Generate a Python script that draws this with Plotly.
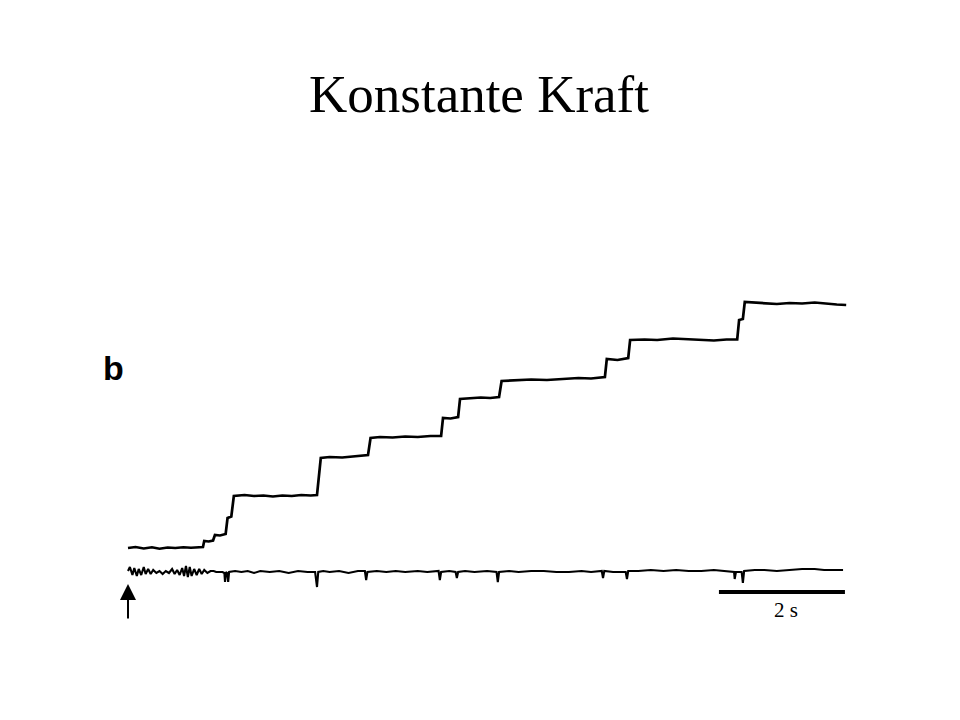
import plotly.graph_objects as go

# ---- data -------------------------------------------------------------
# upper trace: bead displacement (nm) vs time (s)
step_t = [0.00, 0.12, 0.25, 0.38, 0.50, 0.63, 0.75, 0.88, 1.00, 1.10, 1.19,
          1.21, 1.28, 1.35,
          1.38, 1.46, 1.55,
          1.58, 1.64,
          1.68, 1.85, 2.00, 2.15, 2.30, 2.45, 2.60, 2.75, 2.90, 3.00,
          3.06, 3.20, 3.40, 3.60, 3.81,
          3.85, 4.00, 4.20, 4.40, 4.60, 4.80, 4.97,
          5.00, 5.12, 5.24,
          5.27, 5.45, 5.60, 5.75, 5.89,
          5.93, 6.15, 6.40, 6.65, 6.90, 7.15, 7.35, 7.57,
          7.60, 7.77, 7.94,
          7.97, 8.20, 8.40, 8.65, 8.90, 9.10, 9.30, 9.50, 9.67,
          9.70, 9.76,
          9.79, 9.95, 10.10, 10.30, 10.50, 10.70, 10.90, 11.10, 11.25, 11.40]
step_d = [0.0, 0.4, -0.2, 0.3, -0.3, 0.2, 0.0, 0.3, 0.1, 0.4, 0.4,
          2.8, 2.6, 3.0,
          5.2, 5.0, 5.6,
          12.0, 12.6,
          20.8, 21.2, 20.8, 21.0, 20.6, 21.0, 20.8, 21.2, 21.0, 21.2,
          36.0, 36.4, 36.2, 36.8, 37.2,
          44.0, 44.4, 44.2, 44.6, 44.4, 44.8, 44.8,
          52.0, 51.8, 52.4,
          59.6, 59.8, 60.2, 60.0, 60.4,
          66.8, 67.0, 67.4, 67.2, 67.6, 68.0, 67.8, 68.4,
          75.6, 75.2, 76.0,
          83.2, 83.4, 83.2, 83.8, 83.6, 83.2, 83.0, 83.4, 83.4,
          91.2, 91.6,
          98.4, 98.2, 98.0, 97.6, 98.0, 97.8, 98.2, 97.6, 97.4, 97.2]

# lower trace: force / position-detector signal (arb. units) vs time (s)
sig_t = [0.00, 0.03, 0.07, 0.10, 0.14, 0.17, 0.21, 0.25, 0.28, 0.32,
         0.36, 0.40, 0.45, 0.50, 0.55, 0.60, 0.65, 0.70, 0.74, 0.78,
         0.82, 0.86, 0.89, 0.92, 0.95, 0.98, 1.01, 1.05, 1.09, 1.13,
         1.17, 1.21, 1.26, 1.31, 1.36, 1.40, 1.50,
         1.53, 1.54, 1.555, 1.575, 1.59, 1.605,
         1.70, 1.80, 1.90, 2.00, 2.10, 2.25, 2.40, 2.55, 2.70, 2.85, 2.97,
         3.00, 3.02, 3.10, 3.20, 3.35, 3.50, 3.65, 3.76,
         3.78, 3.80, 3.95, 4.10, 4.25, 4.40, 4.60, 4.75, 4.93,
         4.95, 4.97, 5.10, 5.20,
         5.22, 5.24, 5.35, 5.50, 5.70, 5.85,
         5.87, 5.89, 6.05, 6.20, 6.40, 6.60, 6.80, 7.00, 7.20, 7.35, 7.52,
         7.54, 7.56, 7.70, 7.90,
         7.92, 7.94, 8.10, 8.30, 8.50, 8.70, 8.90, 9.10, 9.30, 9.50, 9.62,
         9.63, 9.65, 9.74,
         9.76, 9.78, 9.95, 10.10, 10.30, 10.50, 10.70, 10.90, 11.05, 11.20, 11.35]
sig_f = [1, 5, -3, 4, -4, 3, -3, 5, -2, 3,
         -2, 2, -1, 1, -2, 1, -1, 3, -2, 2,
         -3, 4, -4, 6, -5, 5, -4, 3, -3, 3,
         -2, 2, -1, 1, 1, 0, 0,
         -1, -10, 0, -1, -10, 0,
         1, 0, 1, -1, 1, 0, 1, -1, 1, 0, 0,
         -15, 0, 1, 0, 1, -1, 1, 1,
         -8, 0, 1, 0, 1, 0, 1, 0, 1,
         -8, 0, 1, 0,
         -6, 0, 1, 0, 1, 0,
         -10, 0, 1, 0, 1, 1, 0, 0, 1, 0, 1,
         -6, 1, 0, 0,
         -7, 1, 1, 2, 1, 2, 1, 1, 2, 1, 0,
         -7, 0, 0,
         -11, 1, 2, 2, 1, 2, 3, 3, 2, 2, 2]

scalebar_start = 9.38   # s
scalebar_len = 2.0      # s
scalebar_level = -20    # signal units
scalebar_label = "2 s"
arrow_t = 0.0
panel_label = "b"
title_text = "Konstante Kraft"

# ---- figure -----------------------------------------------------------
fig = go.Figure()
fig.add_trace(go.Scatter(x=step_t, y=step_d, mode="lines",
                         line=dict(color="black", width=2.7),
                         hoverinfo="skip", showlegend=False))
fig.add_trace(go.Scatter(x=sig_t, y=sig_f, mode="lines", yaxis="y2",
                         line=dict(color="black", width=2.1),
                         hoverinfo="skip", showlegend=False))
fig.add_trace(go.Scatter(x=[scalebar_start, scalebar_start + scalebar_len],
                         y=[scalebar_level, scalebar_level], mode="lines",
                         yaxis="y2", line=dict(color="black", width=4),
                         hoverinfo="skip", showlegend=False))

fig.add_annotation(x=scalebar_start + scalebar_len / 2 + 0.06,
                   y=scalebar_level - 18,
                   xref="x", yref="y2", text=scalebar_label, showarrow=False,
                   xanchor="center", yanchor="middle",
                   font=dict(family="Liberation Serif", size=21, color="black"))
fig.add_annotation(x=arrow_t, y=-12, xref="x", yref="y2",
                   ax=arrow_t, ay=-48, axref="x", ayref="y2",
                   text="", showarrow=True, arrowhead=2, arrowsize=1.6,
                   arrowwidth=2, arrowcolor="black")
fig.add_annotation(x=0.1094, y=0.5, xref="paper", yref="paper",
                   text="<b>" + panel_label + "</b>", showarrow=False,
                   xanchor="center", yanchor="middle",
                   font=dict(family="Liberation Sans", size=34, color="black"))
fig.add_annotation(x=0.4906, y=0.8800, xref="paper", yref="paper",
                   text=title_text, showarrow=False,
                   xanchor="center", yanchor="middle",
                   font=dict(family="Liberation Serif", size=53, color="black"))

fig.update_layout(
    width=960, height=720,
    margin=dict(l=0, r=0, t=0, b=0),
    paper_bgcolor="white", plot_bgcolor="white",
    xaxis=dict(range=[-120 / 63, 840 / 63], visible=False, fixedrange=True),
    yaxis=dict(range=[-72, 216], visible=False, fixedrange=True),
    yaxis2=dict(range=[-156, 564], visible=False, overlaying="y",
                fixedrange=True),
)
fig.write_html("out.html")
